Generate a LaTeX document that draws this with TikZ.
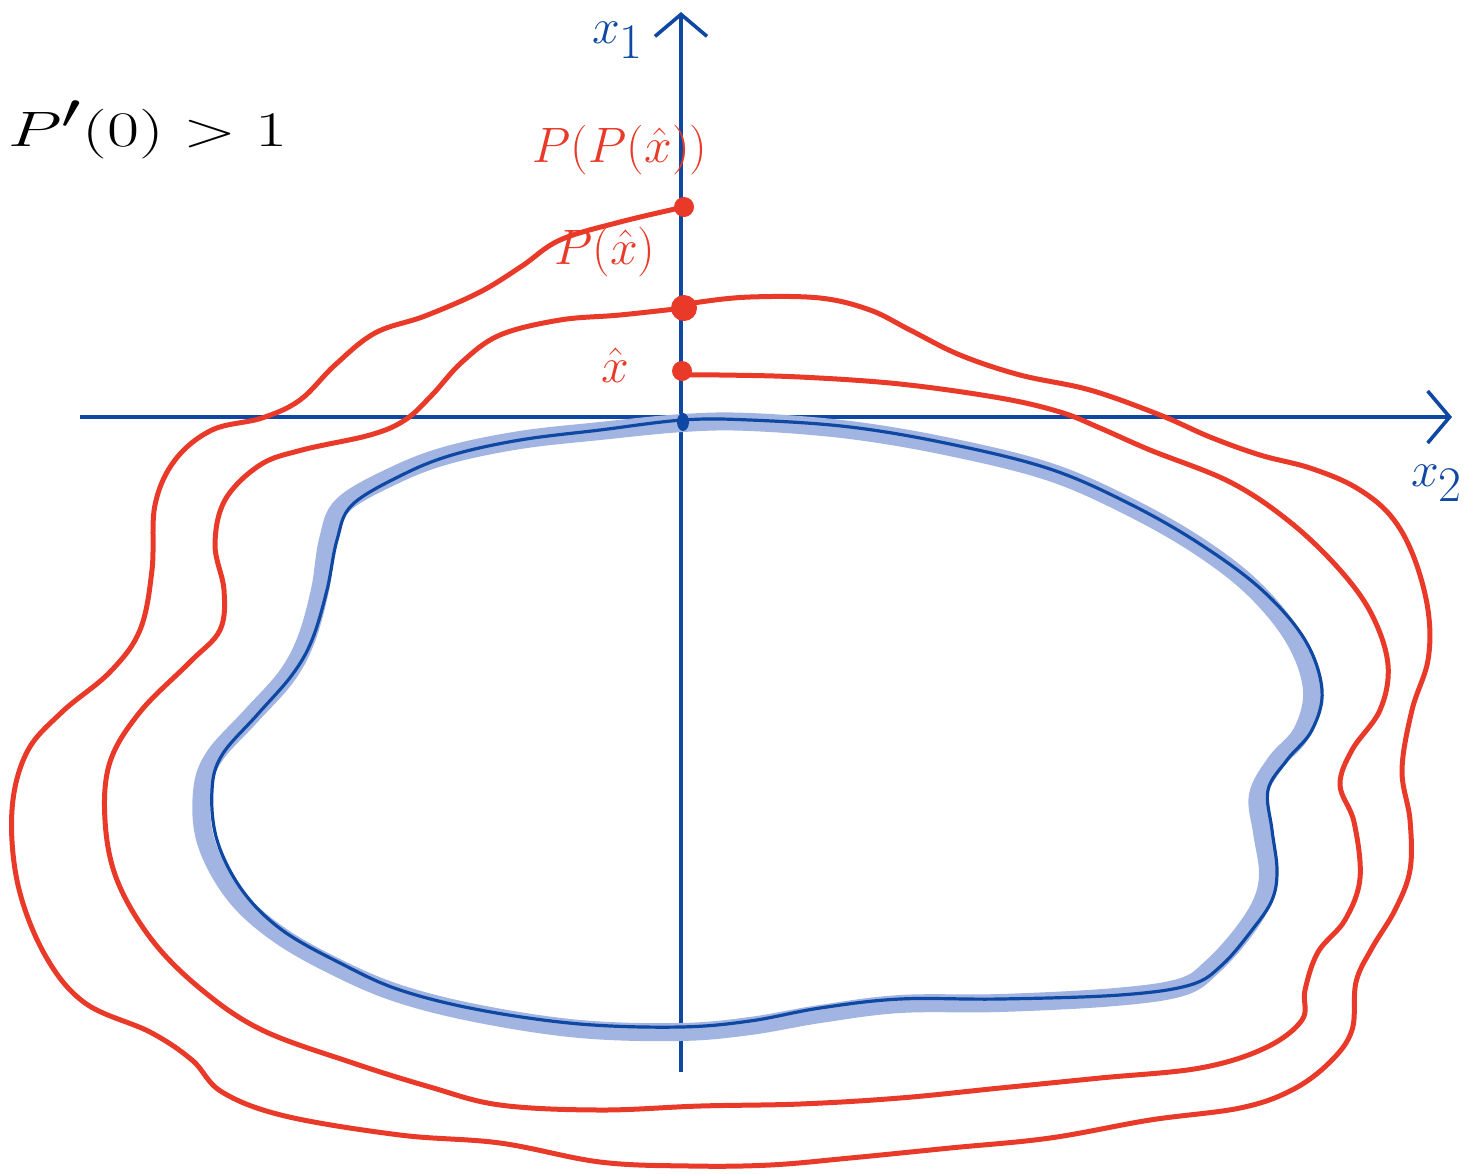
\documentclass[tikz,border=0pt]{standalone}
\usepackage{graphicx}
\usetikzlibrary{arrows.meta,shapes.geometric}
\definecolor{pred}{RGB}{233,57,40}
\definecolor{pblue}{RGB}{14,72,162}
\definecolor{phalo}{RGB}{162,181,226}
\begin{document}
\begin{tikzpicture}[x=0.5pt,y=-0.5pt,
  axis/.style={pblue,line width=1.8pt,-{Straight Barb[length=11pt,width=26pt,line width=1.8pt]}},
  redcurve/.style={pred,line width=2.5pt,line cap=round},
  bluecurve/.style={pblue,line width=1.6pt},
  halo/.style={phalo,line width=9pt,line cap=round},
  rdot/.style={circle,fill=pred,inner sep=0pt},
  lbl/.style={inner sep=0pt}]
\useasboundingbox (0,0) rectangle (1470,1173);
% axes
\coordinate (hs) at (80,417);
\coordinate (he) at (1452,417);
\coordinate (vs) at (681,1072);
\coordinate (ve) at (681,12);
\draw[axis] (hs) -- (he);
\draw[axis] (vs) -- (ve);
% halo and blue invariant curve
\draw[halo] plot[smooth cycle,tension=0.6] coordinates {
 (683,423) (750,422) (850,430) (950,447) (1050,472) (1130,507) (1200,547) (1255,590)
 (1295,640) (1312,690) (1302,732) (1276,762) (1258,795) (1262,832) (1268,872) (1262,902)
 (1242,934) (1212,967) (1182,987) (1115,997) (1000,1003) (900,1004) (820,1014) (750,1026)
 (680,1032) (580,1029) (480,1014) (400,994) (338,968) (278,934) (234,894) (206,842)
 (202,792) (214,757) (250,717) (286,677) (306,640) (320,590) (328,540) (343,505)
 (395,475) (448,455) (520,440) (600,431)};
\draw[bluecurve] plot[smooth cycle,tension=0.6] coordinates {
 (683,420) (750,420) (850,427) (950,444) (1050,469) (1130,504) (1200,544) (1262,590)
 (1305,640) (1322,690) (1312,730) (1287,760) (1268,790) (1272,830) (1277,870) (1272,900)
 (1252,930) (1222,965) (1190,985) (1120,995) (1000,999) (900,999) (820,1008) (750,1021)
 (680,1027) (580,1024) (480,1010) (400,990) (342,964) (282,930) (242,890) (217,840)
 (212,790) (222,755) (257,715) (292,675) (312,640) (327,590) (337,540) (352,505)
 (402,475) (452,455) (520,440) (600,430)};
\node[ellipse,fill=pblue,minimum width=6pt,minimum height=9pt,inner sep=0pt] (o) at (683,422) {};
% red dots
\node[rdot,minimum size=10pt] (p0) at (682,371) {};
\node[rdot,minimum size=13pt] (p1) at (684,308) {};
\node[rdot,minimum size=10pt] (p2) at (684,207) {};
% middle curve: from x-hat to P(x-hat)
\draw[redcurve] plot[smooth,tension=0.6] coordinates {
 (684,375) (720,375) (800,377) (900,384) (1000,398) (1060,412) (1100,428) (1150,450)
 (1230,482) (1290,522) (1340,570) (1372,615) (1388,665) (1380,710) (1352,750) (1340,785)
 (1354,822) (1360,878) (1345,920) (1318,952) (1305,990) (1302,1020) (1265,1048) (1200,1068)
 (1100,1078) (1000,1088) (900,1098) (800,1104) (700,1106) (600,1110) (500,1105) (430,1087)
 (350,1062) (262,1030) (202,990) (152,940) (117,880) (105,820) (110,762) (140,712)
 (190,662) (220,630) (224,590) (215,545) (225,500) (260,465) (302,450) (370,435)
 (405,420) (432,395) (462,362) (500,335) (560,320) (620,315) (684,308)};
% outer curve: from P(x-hat) to P(P(x-hat))
\draw[redcurve] plot[smooth,tension=0.6] coordinates {
 (684,306) (700,302) (750,297) (820,298) (870,310) (910,330) (960,355) (1020,375)
 (1090,390) (1160,415) (1210,437) (1260,455) (1310,468) (1355,487) (1390,515) (1413,555)
 (1428,610) (1428,660) (1412,710) (1402,770) (1410,820) (1410,870) (1395,910) (1372,948)
 (1356,982) (1352,1030) (1330,1062) (1292,1090) (1240,1108) (1150,1120) (1050,1138) (950,1148)
 (850,1158) (770,1165) (690,1166) (600,1162) (500,1143) (400,1135) (285,1116) (222,1092)
 (192,1060) (150,1032) (85,1003) (45,955) (18,885) (12,810) (27,752) (62,712)
 (110,672) (140,630) (152,570) (155,505) (175,460) (212,430) (262,418) (300,400)
 (335,365) (375,333) (425,316) (480,292) (522,266) (560,240) (620,222) (684,207)};
% labels
\node[lbl,pblue] (lx1) at (618,40) {\fontsize{46}{50}\selectfont$x_1$};
\node[lbl,pblue] (lx2) at (1437,483) {\fontsize{46}{50}\selectfont$x_2$};
\node[lbl] (lp) at (148,130) {\scalebox{1.4}[1]{\fontsize{56}{62}\selectfont$P'(0)>1$}};
\node[lbl,pred] (lppx) at (620,150) {\fontsize{40}{44}\selectfont$P(P(\hat{x}))$};
\node[lbl,pred] (lpx) at (605,252) {\fontsize{34}{38}\selectfont$P(\hat{x})$};
\node[lbl,pred] (lx) at (615,365) {\fontsize{38}{42}\selectfont$\hat{x}$};
\end{tikzpicture}
\end{document}
